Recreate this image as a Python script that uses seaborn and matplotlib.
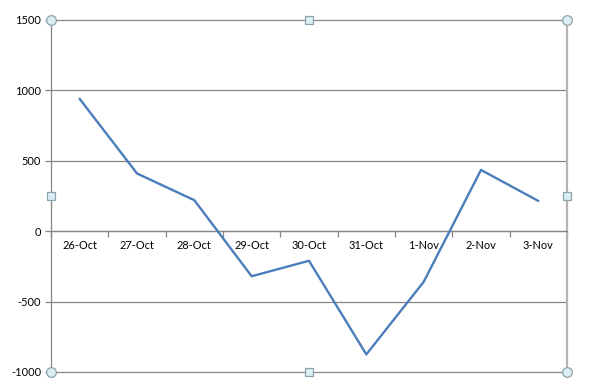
import matplotlib
matplotlib.use("Agg")
import matplotlib.pyplot as plt
import seaborn as sns
import pandas as pd
import numpy as np

dates = ["26-Oct", "27-Oct", "28-Oct", "29-Oct", "30-Oct", "31-Oct", "1-Nov", "2-Nov", "3-Nov"]
values = [940, 410, 220, -320, -210, -875, -360, 435, 215]
yticks = [-1000, -500, 0, 500, 1000, 1500]

sns.set_style("white")
plt.rcParams['font.family'] = ['Lato', 'DejaVu Sans']

df = pd.DataFrame({"date": dates, "value": values})
df["pos"] = np.arange(len(dates))

fig = plt.figure(figsize=(5.92, 3.92), dpi=100)
ax = fig.add_axes([51/592, 1-372/392, (567-51)/592, (372-20)/392])

grid_c = "#868686"
for t in yticks:
    ax.axhline(t, color=grid_c, lw=0.9, zorder=1, clip_on=False)

sns.lineplot(data=df, x="pos", y="value", ax=ax, color="#4A7EBB", lw=1.7, zorder=3)

ax.set_xlim(-0.5, len(dates) - 0.5)
ax.set_ylim(-1000, 1500)
ax.set_yticks(yticks)
ax.set_yticklabels([str(t) for t in yticks], fontsize=7.9, color="#000000")
ax.tick_params(axis='y', length=4, width=0.9, color=grid_c, pad=3, direction='out', left=True)

ax.spines['bottom'].set_position(('data', 0))
ax.spines['bottom'].set_color(grid_c)
ax.spines['bottom'].set_linewidth(0.9)
ax.spines['top'].set_visible(False)
ax.spines['left'].set_color(grid_c)
ax.spines['left'].set_linewidth(0.9)
ax.spines['right'].set_color("#b4b4b4")
ax.spines['right'].set_linewidth(1.6)

ax.set_xticks(df["pos"])
ax.set_xticklabels(dates, fontsize=7.9, color="#000000")
ax.set_xticks(np.arange(len(dates) + 1) - 0.5, minor=True)
ax.tick_params(axis='x', which='major', length=0, pad=6)
ax.tick_params(axis='x', which='minor', length=4, width=0.9, color=grid_c, direction='out', bottom=True)
ax.set_xlabel("")
ax.set_ylabel("")

# selection handles
hc_face = "#dbeef4"
hc_edge = "#8ea3ab"
for (hx, hy) in [(0, 0), (1, 0), (0, 1), (1, 1)]:
    ax.plot(hx, hy, marker='o', ms=7, mfc=hc_face, mec=hc_edge, mew=0.9,
            transform=ax.transAxes, clip_on=False, zorder=10)
for (hx, hy) in [(0.5, 0), (0.5, 1), (0, 0.5), (1, 0.5)]:
    ax.plot(hx, hy, marker='s', ms=6, mfc=hc_face, mec=hc_edge, mew=0.9,
            transform=ax.transAxes, clip_on=False, zorder=10)

fig.savefig("out.png", dpi=100)
